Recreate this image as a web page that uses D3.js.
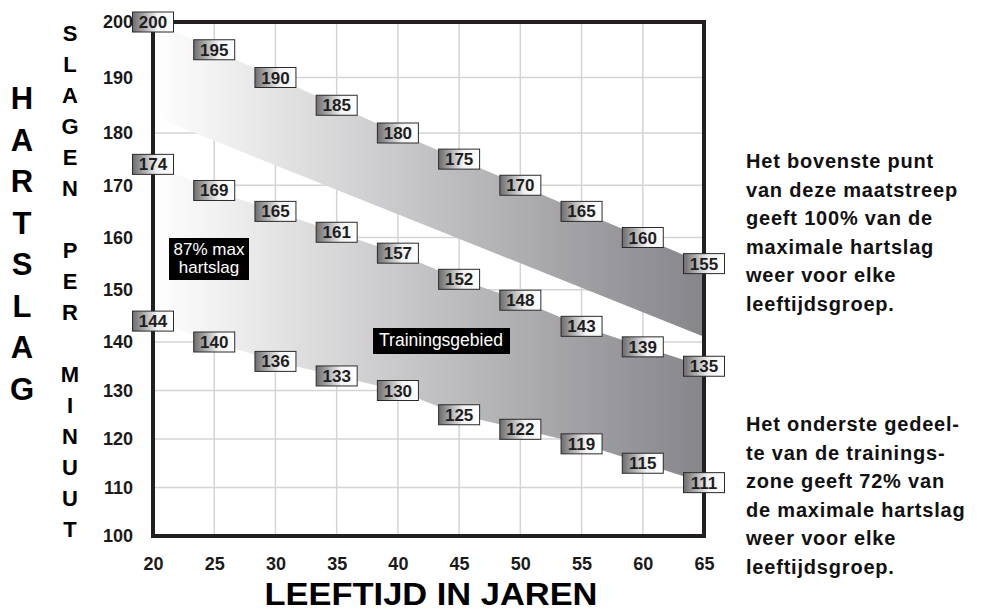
<!DOCTYPE html>
<html>
<head>
<meta charset="utf-8">
<script src="https://cdn.jsdelivr.net/npm/d3@7"></script>
<style>
  body { margin: 0; background: #fff; }
  svg { display: block; font-family: "Liberation Sans", Arial, sans-serif; }
</style>
</head>
<body>
<script>
var ages = [20, 25, 30, 35, 40, 45, 50, 55, 60, 65],
    maxRate = [200, 195, 190, 185, 180, 175, 170, 165, 160, 155],
    zoneTop = [174, 169, 165, 161, 157, 152, 148, 143, 139, 135],
    zoneLow = [144, 140, 136, 133, 130, 125, 122, 119, 115, 111],
    edgeAges = [20, 65],
    bandLow = [183, 141],       // straight lower edge of the top band
    xTicks = [20, 25, 30, 35, 40, 45, 50, 55, 60, 65],
    yTicks = [100, 110, 120, 130, 140, 150, 160, 170, 180, 190, 200];

var noteTop = ['Het bovenste punt', 'van deze maatstreep', 'geeft 100% van de',
               'maximale hartslag', 'weer voor elke', 'leeftijdsgroep.'],
    noteLow = ['Het onderste gedeel-', 'te van de trainings-', 'zone geeft 72% van',
               'de maximale hartslag', 'weer voor elke', 'leeftijdsgroep.'];

var width = 981,
    height = 611,
    frame = '#231f20';

var x = d3.scaleLinear()
        .domain([20, 65])
        .range([153, 704]);

// the printed scale is a little stretched at the top
var y = d3.scaleLinear()
        .domain([100, 140, 180, 200])
        .range([536, 342, 133, 22]);

var svg = d3.select('body')
        .append('svg')
         .attr('width', width)
         .attr('height', height);

var defs = svg.append('defs');

var bandGrad = defs.append('linearGradient')
        .attr('id', 'bandGrad')
        .attr('gradientUnits', 'userSpaceOnUse')
        .attr('x1', x(20)).attr('x2', x(65))
        .attr('y1', 0).attr('y2', 0);
bandGrad.append('stop').attr('offset', 0).attr('stop-color', '#ffffff');
bandGrad.append('stop').attr('offset', 1).attr('stop-color', '#85858a');

var boxGrad = defs.append('linearGradient')
        .attr('id', 'boxGrad')
        .attr('x1', 0).attr('x2', 1).attr('y1', 0).attr('y2', 0);
boxGrad.append('stop').attr('offset', 0).attr('stop-color', '#6c6c6e');
boxGrad.append('stop').attr('offset', 0.6).attr('stop-color', '#f2f2f2');
boxGrad.append('stop').attr('offset', 1).attr('stop-color', '#ffffff');

// grid
svg.append('g')
    .selectAll('line')
    .data(xTicks.slice(1, -1))
    .enter().append('line')
     .attr('x1', function(d) { return x(d); })
     .attr('x2', function(d) { return x(d); })
     .attr('y1', y(200))
     .attr('y2', y(100))
     .attr('stroke', '#d4d4d6')
     .attr('stroke-width', 1.5);

svg.append('g')
    .selectAll('line')
    .data(yTicks.slice(1, -1))
    .enter().append('line')
     .attr('x1', x(20))
     .attr('x2', x(65))
     .attr('y1', function(d) { return y(d); })
     .attr('y2', function(d) { return y(d); })
     .attr('stroke', '#d4d4d6')
     .attr('stroke-width', 1.5);

// bands
var poly = d3.line()
        .x(function(d) { return x(d[0]); })
        .y(function(d) { return y(d[1]); });

var upperPts = ages.map(function(a, i) { return [a, maxRate[i]]; })
        .concat([[edgeAges[1], bandLow[1]], [edgeAges[0], bandLow[0]]]);

var zonePts = ages.map(function(a, i) { return [a, zoneTop[i]]; })
        .concat(ages.map(function(a, i) { return [a, zoneLow[i]]; }).reverse());

svg.append('path')
    .attr('d', poly(upperPts) + 'Z')
    .attr('fill', 'url(#bandGrad)');

svg.append('path')
    .attr('d', poly(zonePts) + 'Z')
    .attr('fill', 'url(#bandGrad)');

// frame
svg.append('rect')
    .attr('x', x(20))
    .attr('y', y(200))
    .attr('width', x(65) - x(20))
    .attr('height', y(100) - y(200))
    .attr('fill', 'none')
    .attr('stroke', frame)
    .attr('stroke-width', 4);

// axes
var yAxis = d3.axisLeft(y)
        .tickValues(yTicks)
        .tickSize(0)
        .tickPadding(20);

var xAxis = d3.axisBottom(x)
        .tickValues(xTicks)
        .tickSize(0)
        .tickPadding(21);

svg.append('g')
    .attr('class', 'y axis')
    .attr('transform', 'translate(' + x(20) + ',0)')
    .call(yAxis);

svg.append('g')
    .attr('class', 'x axis')
    .attr('transform', 'translate(0,' + y(100) + ')')
    .call(xAxis);

svg.selectAll('.axis .domain').remove();
svg.selectAll('.axis text')
    .attr('fill', '#1a1a1a')
    .style('font-size', '18px')
    .style('font-weight', 'bold')
    .style('font-family', '"Liberation Sans", Arial, sans-serif');

// value boxes
function boxes(values) {
    var g = svg.append('g')
            .selectAll('g')
            .data(values)
            .enter().append('g')
             .attr('transform', function(d, i) {
                 return 'translate(' + x(ages[i]) + ',' + y(d) + ')';
             });
    g.append('rect')
        .attr('x', -20.5).attr('y', -10)
        .attr('width', 41).attr('height', 20)
        .attr('fill', 'url(#boxGrad)')
        .attr('stroke', '#2a2a2a')
        .attr('stroke-width', 1);
    g.append('text')
        .attr('text-anchor', 'middle')
        .attr('dy', 6)
        .attr('fill', '#1e1e1e')
        .style('font-size', '17px')
        .style('font-weight', 'bold')
        .text(function(d) { return d; });
}
boxes(maxRate);
boxes(zoneTop);
boxes(zoneLow);

// labels inside the chart
svg.append('rect')
    .attr('x', 169).attr('y', 238)
    .attr('width', 80).attr('height', 42)
    .attr('fill', '#000');
svg.append('text')
    .attr('x', 209).attr('y', 255)
    .attr('text-anchor', 'middle')
    .attr('fill', '#fff')
    .style('font-size', '17px')
    .text('87% max');
svg.append('text')
    .attr('x', 209).attr('y', 273)
    .attr('text-anchor', 'middle')
    .attr('fill', '#fff')
    .style('font-size', '17px')
    .text('hartslag');

svg.append('rect')
    .attr('x', 373).attr('y', 328)
    .attr('width', 137).attr('height', 26)
    .attr('fill', '#000');
svg.append('text')
    .attr('x', 441).attr('y', 346)
    .attr('text-anchor', 'middle')
    .attr('fill', '#fff')
    .style('font-size', '17.5px')
    .text('Trainingsgebied');

// axis titles
svg.append('g')
    .selectAll('text')
    .data('HARTSLAG'.split(''))
    .enter().append('text')
     .attr('x', 22)
     .attr('y', function(d, i) { return 109 + i * 41.5; })
     .attr('text-anchor', 'middle')
     .attr('fill', '#000')
     .style('font-size', '31px')
     .style('font-weight', 'bold')
     .text(function(d) { return d; });

svg.append('g')
    .selectAll('text')
    .data('SLAGEN PER MINUUT'.split(''))
    .enter().append('text')
     .attr('x', 70)
     .attr('y', function(d, i) { return 41 + i * 31; })
     .attr('text-anchor', 'middle')
     .attr('fill', '#000')
     .style('font-size', '22px')
     .style('font-weight', 'bold')
     .text(function(d) { return d; });

svg.append('text')
    .attr('x', 431)
    .attr('y', 605)
    .attr('text-anchor', 'middle')
    .attr('textLength', 333)
    .attr('lengthAdjust', 'spacingAndGlyphs')
    .attr('fill', '#000')
    .style('font-size', '31px')
    .style('font-weight', 'bold')
    .text('LEEFTIJD IN JAREN');

// side notes
function note(lines, top) {
    svg.append('g')
        .selectAll('text')
        .data(lines)
        .enter().append('text')
         .attr('x', 746)
         .attr('y', function(d, i) { return top + i * 28.5; })
         .attr('fill', '#111')
         .style('font-size', '20px')
         .style('font-weight', 'bold')
         .style('letter-spacing', '0.8px')
         .text(function(d) { return d; });
}
note(noteTop, 168);
note(noteLow, 431);
</script>
</body>
</html>
